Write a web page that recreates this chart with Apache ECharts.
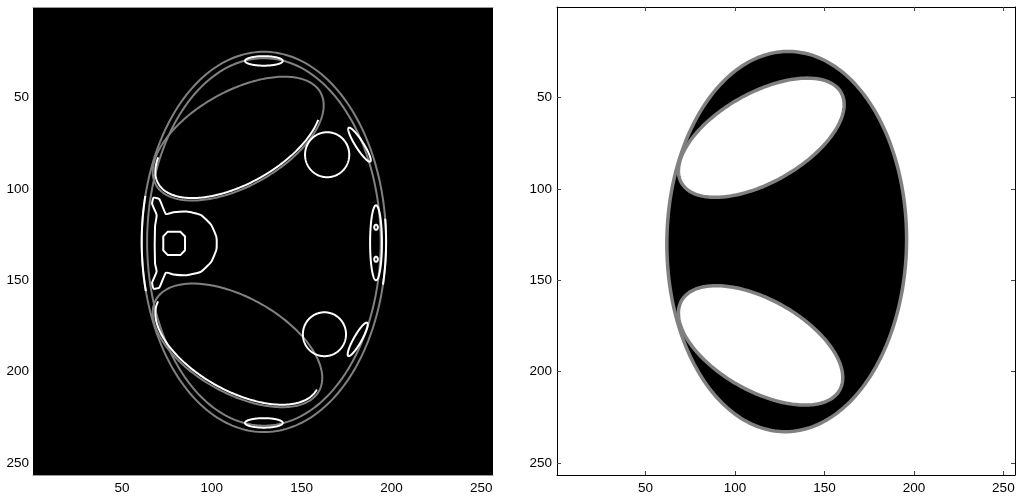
<!DOCTYPE html>
<html><head><meta charset="utf-8">
<script src="https://cdn.jsdelivr.net/npm/echarts@6/dist/echarts.min.js"></script>
<style>html,body{margin:0;padding:0;background:#fff}#c{width:1018px;height:500px}</style>
</head><body><div id="c"></div>
<script>
// ---- data (pixel coordinates of the 256x256 images) ----
const tickValues = [50, 100, 150, 200, 250];
const imgMin = 0.5, imgMax = 256.5;

// left image (edge map): ellipse outlines [cx, cy, rx, ry, angleDeg, tStartDeg, tEndDeg]
const edgeGrayEllipses = [
  [129, 129, 68, 104, 0, 0, 360],
  [129, 129, 65, 100.5, 0, 0, 360],
  [114.7, 72.5, 52.3, 26, 28.6, 0, 360],
  [114.3, 185.6, 51.8, 26.2, -28.6, 0, 360]
];
const edgeWhiteEllipses = [
  [114.7, 72.5, 50.8, 24.6, 28.6, 150, 330],
  [114.3, 185.6, 50.3, 24.8, -28.6, 180, 360],
  [129, 30, 10.5, 2.6, 0, 0, 360],
  [129, 228, 10.5, 2.6, 0, 0, 360],
  [164.2, 81.3, 12.3, 12.3, 0, 0, 360],
  [162.7, 179.5, 12, 12, 0, 0, 360],
  [182.2, 75.8, 11, 2.2, -57, 0, 360],
  [181.2, 182.3, 10.5, 2.2, 60, 0, 360],
  [191.4, 129.5, 3.3, 20.5, 0, 0, 360],
  [191.4, 121, 1.0, 1.4, 0, 0, 360],
  [191.4, 138.5, 1.0, 1.4, 0, 0, 360],
  [129, 129, 68, 104, 0, 166, 195],
  [129, 129, 68, 104, 0, -13, 7]
];
// vertebra outline and its core (polygon vertices [x, y])
const vertebraOutline = [
  [67.6,104.8],[70.8,105.6],[74.5,113.8],[78.6,112.8],[86.0,112.4],[93.8,114.2],
  [99.6,119.6],[102.6,126.5],[102.6,133.1],[99.6,140.0],[93.8,145.4],[86.0,147.2],[78.6,146.8],
  [74.5,145.8],[70.8,154.0],[67.6,154.6],[66.8,151.3],[69.3,145.3],[68.4,140.7],
  [68.4,120.7],[69.3,114.3],[66.8,108.2]
];
const vertebraCore = [
  [75.5,123.4],[82.5,123.4],[85.1,126],[85.1,133.6],[82.5,136.2],[75.5,136.2],[73,133.6],[73,126]
];

// right image (mask): [cx, cy, rx, ry, angleDeg, tStartDeg, tEndDeg]
const maskBody = [[128.9, 128.8, 67, 104, -0.8, 0, 360]];
const maskLungs = [
  [114.7, 72, 51, 24.6, 28.6, 0, 360],
  [114.3, 185.6, 50.5, 25, -28.6, 0, 360]
];

// ---- rendering ----
const GRAY = '#808080';
const FONT = 'Liberation Sans, Arial, Helvetica, sans-serif';

function ellipseRenderer(style) {
  return function (params, api) {
    const cx = api.value(0), cy = api.value(1), rx = api.value(2), ry = api.value(3);
    const a = api.value(4) * Math.PI / 180, t0 = api.value(5), t1 = api.value(6);
    const n = 240, pts = [];
    for (let i = 0; i <= n; i++) {
      const t = (t0 + (t1 - t0) * i / n) * Math.PI / 180;
      const u = rx * Math.cos(t), v = ry * Math.sin(t);
      pts.push(api.coord([cx + u * Math.cos(a) - v * Math.sin(a), cy - (u * Math.sin(a) + v * Math.cos(a))]));
    }
    const closed = (t1 - t0) >= 360;
    return { type: closed ? 'polygon' : 'polyline', shape: { points: pts }, style: Object.assign({}, style) };
  };
}
function polygonRenderer(points, style, smooth) {
  return function (params, api) {
    return { type: 'polygon', shape: { points: points.map(p => api.coord(p)), smooth: smooth || 0 }, style: Object.assign({}, style) };
  };
}
function customSeries(xi, yi, data, renderItem) {
  return { type: 'custom', xAxisIndex: xi, yAxisIndex: yi, data: data, renderItem: renderItem,
           clip: true, silent: true, animation: false, encode: { x: 0, y: 1 } };
}
const label = (show, margin) => ({ show: show, customValues: tickValues, fontSize: 13.5, fontFamily: FONT, color: '#000', margin: margin });
const baseAxis = { type: 'value', min: imgMin, max: imgMax, splitLine: { show: false } };
const boxTick = { show: true, inside: true, length: 4, customValues: tickValues, lineStyle: { color: '#444' } };

const chart = echarts.init(document.getElementById('c'), null, { renderer: 'canvas' });
chart.setOption({
  animation: false,
  backgroundColor: '#fff',
  grid: [
    { left: 33, top: 7, width: 460, height: 468, show: true, backgroundColor: '#000', borderWidth: 0 },
    { left: 557, top: 7, width: 458, height: 468, show: true, backgroundColor: '#fff', borderWidth: 0 }
  ],
  xAxis: [
    Object.assign({}, baseAxis, { gridIndex: 0, position: 'bottom', axisLine: { show: true, lineStyle: { color: '#9a9a9a' } }, axisTick: { show: false }, axisLabel: label(true, 6) }),
    Object.assign({}, baseAxis, { gridIndex: 0, position: 'top', axisLine: { show: true, lineStyle: { color: '#9a9a9a' } }, axisTick: { show: false }, axisLabel: { show: false } }),
    Object.assign({}, baseAxis, { gridIndex: 1, position: 'bottom', axisLine: { show: true, lineStyle: { color: '#000' } }, axisTick: boxTick, axisLabel: label(true, 6) }),
    Object.assign({}, baseAxis, { gridIndex: 1, position: 'top', axisLine: { show: true, lineStyle: { color: '#000' } }, axisTick: boxTick, axisLabel: { show: false } })
  ],
  yAxis: [
    Object.assign({}, baseAxis, { gridIndex: 0, inverse: true, position: 'left', axisLine: { show: false }, axisTick: { show: false }, axisLabel: label(true, 4) }),
    Object.assign({}, baseAxis, { gridIndex: 1, inverse: true, position: 'left', axisLine: { show: true, lineStyle: { color: '#000' } }, axisTick: boxTick, axisLabel: label(true, 5) }),
    Object.assign({}, baseAxis, { gridIndex: 1, inverse: true, position: 'right', axisLine: { show: true, lineStyle: { color: '#000' } }, axisTick: boxTick, axisLabel: { show: false } })
  ],
  series: [
    customSeries(0, 0, edgeGrayEllipses, ellipseRenderer({ fill: 'none', stroke: GRAY, lineWidth: 2 })),
    customSeries(0, 0, edgeWhiteEllipses, ellipseRenderer({ fill: 'none', stroke: '#fff', lineWidth: 2 })),
    customSeries(0, 0, [[0, 0]], polygonRenderer(vertebraOutline, { fill: 'none', stroke: '#fff', lineWidth: 2, lineJoin: 'round' }, 0.15)),
    customSeries(0, 0, [[0, 0]], polygonRenderer(vertebraCore, { fill: 'none', stroke: '#fff', lineWidth: 2 })),
    customSeries(2, 1, maskBody, ellipseRenderer({ fill: '#000', stroke: GRAY, lineWidth: 3.5 })),
    customSeries(2, 1, maskLungs, ellipseRenderer({ fill: '#fff', stroke: GRAY, lineWidth: 3.5 }))
  ]
});
</script></body></html>
